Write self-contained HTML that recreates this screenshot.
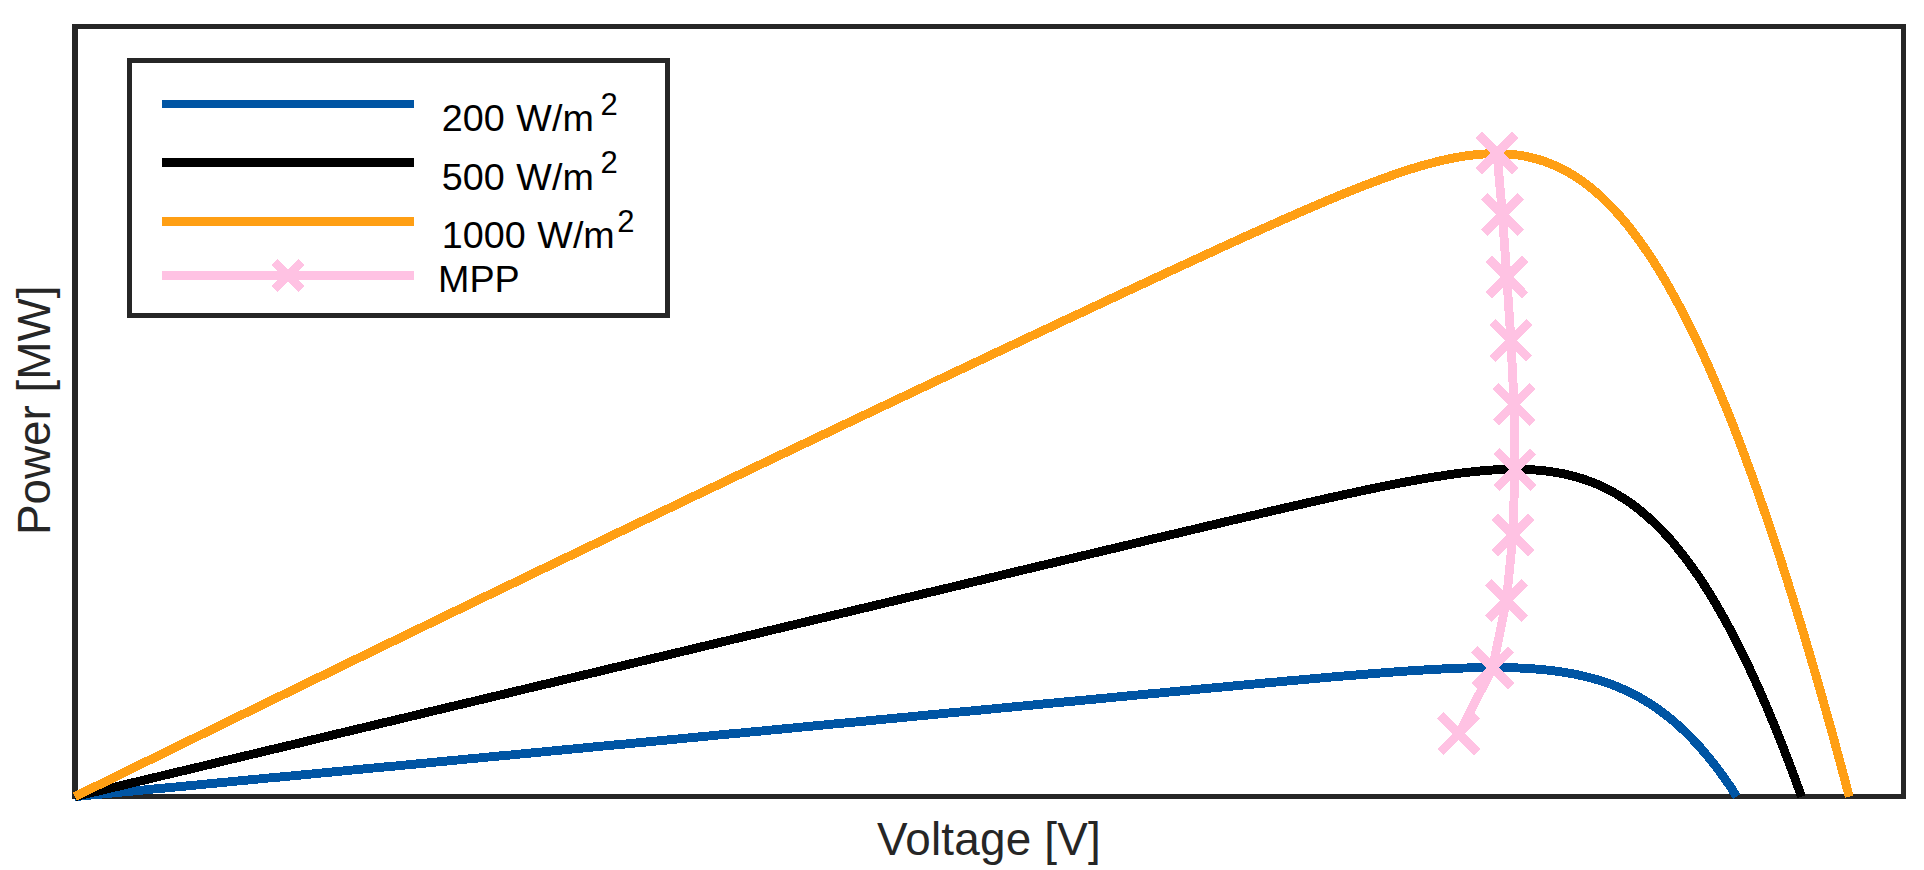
<!DOCTYPE html>
<html lang="en">
<head>
<meta charset="utf-8">
<title>PV power-voltage curves</title>
<style>
html,body{margin:0;padding:0;background:#fff;}
body{width:1924px;height:870px;overflow:hidden;}
svg{display:block;}
text{font-family:"Liberation Sans",Arial,Helvetica,sans-serif;}
.lg{font-size:37.7px;fill:#000;word-spacing:1.2px;}
.sup{font-size:31px;fill:#000;}
.ax{font-size:45.83px;fill:#262626;letter-spacing:0.2px;}
</style>
</head>
<body>
<svg width="1924" height="870" viewBox="0 0 1924 870" shape-rendering="crispEdges">
<rect x="0" y="0" width="1924" height="870" fill="#fff"/>
<!-- axes box -->
<rect x="75.15" y="26.4" width="1828.35" height="770" fill="none" stroke="#262626" stroke-width="5"/>
<rect x="72.3" y="23.9" width="5.7" height="775" fill="#262626"/>
<!-- curves -->
<g fill="none" stroke-width="8.9" stroke-linejoin="round" stroke-linecap="butt">
<path d="M75.0 796.6 L82.3 795.9 L89.5 795.2 L96.8 794.5 L104.0 793.8 L111.3 793.1 L118.5 792.4 L125.8 791.7 L133.1 791.0 L140.3 790.3 L147.6 789.6 L154.8 788.9 L162.1 788.3 L169.3 787.6 L176.6 786.9 L183.9 786.2 L191.1 785.5 L198.4 784.8 L205.6 784.1 L212.9 783.4 L220.1 782.7 L227.4 782.0 L234.6 781.3 L241.9 780.6 L249.2 779.9 L256.4 779.2 L263.7 778.5 L270.9 777.8 L278.2 777.2 L285.4 776.5 L292.7 775.8 L300.0 775.1 L307.2 774.4 L314.5 773.7 L321.7 773.0 L329.0 772.3 L336.2 771.6 L343.5 770.9 L350.8 770.2 L358.0 769.5 L365.3 768.8 L372.5 768.1 L379.8 767.4 L387.0 766.7 L394.3 766.1 L401.5 765.4 L408.8 764.7 L416.1 764.0 L423.3 763.3 L430.6 762.6 L437.8 761.9 L445.1 761.2 L452.3 760.5 L459.6 759.8 L466.9 759.1 L474.1 758.4 L481.4 757.7 L488.6 757.0 L495.9 756.3 L503.1 755.6 L510.4 755.0 L517.7 754.3 L524.9 753.6 L532.2 752.9 L539.4 752.2 L546.7 751.5 L553.9 750.8 L561.2 750.1 L568.4 749.4 L575.7 748.7 L583.0 748.0 L590.2 747.3 L597.5 746.6 L604.7 745.9 L612.0 745.2 L619.2 744.5 L626.5 743.9 L633.8 743.2 L641.0 742.5 L648.3 741.8 L655.5 741.1 L662.8 740.4 L670.0 739.7 L677.3 739.0 L684.6 738.3 L691.8 737.6 L699.1 736.9 L706.3 736.2 L713.6 735.5 L720.8 734.8 L728.1 734.1 L735.3 733.4 L742.6 732.8 L749.9 732.1 L757.1 731.4 L764.4 730.7 L771.6 730.0 L778.9 729.3 L786.1 728.6 L793.4 727.9 L800.7 727.2 L807.9 726.5 L815.2 725.8 L822.4 725.1 L829.7 724.4 L836.9 723.7 L844.2 723.0 L851.5 722.4 L858.7 721.7 L866.0 721.0 L873.2 720.3 L880.5 719.6 L887.7 718.9 L895.0 718.2 L902.2 717.5 L909.5 716.8 L916.8 716.1 L924.0 715.4 L931.3 714.7 L938.5 714.0 L945.8 713.3 L953.0 712.6 L960.3 711.9 L967.6 711.3 L974.8 710.6 L982.1 709.9 L989.3 709.2 L996.6 708.5 L1003.8 707.8 L1011.1 707.1 L1018.4 706.4 L1025.6 705.7 L1032.9 705.0 L1040.1 704.3 L1047.4 703.6 L1054.6 702.9 L1061.9 702.2 L1069.1 701.5 L1076.4 700.9 L1083.7 700.2 L1090.9 699.5 L1098.2 698.8 L1105.4 698.1 L1112.7 697.4 L1119.9 696.7 L1127.2 696.0 L1134.5 695.3 L1141.7 694.6 L1149.0 693.9 L1156.2 693.3 L1163.5 692.6 L1170.8 691.9 L1178.0 691.2 L1185.3 690.5 L1192.5 689.8 L1199.8 689.1 L1207.0 688.4 L1214.3 687.8 L1221.6 687.1 L1228.8 686.4 L1236.1 685.7 L1243.3 685.0 L1250.6 684.4 L1257.9 683.7 L1265.1 683.0 L1272.4 682.4 L1279.7 681.7 L1286.9 681.0 L1294.2 680.4 L1301.5 679.7 L1308.7 679.1 L1316.0 678.4 L1323.3 677.8 L1330.5 677.1 L1337.8 676.5 L1345.1 675.9 L1352.4 675.3 L1359.6 674.7 L1366.9 674.1 L1374.2 673.5 L1381.5 672.9 L1388.8 672.4 L1396.1 671.8 L1403.4 671.3 L1410.7 670.8 L1418.0 670.4 L1425.3 669.9 L1432.6 669.5 L1439.9 669.1 L1447.3 668.7 L1454.6 668.4 L1462.0 668.1 L1469.3 667.9 L1476.7 667.7 L1484.1 667.6 L1491.5 667.5 L1498.9 667.5 L1506.3 667.6 L1513.8 667.8 L1521.2 668.1 L1528.7 668.5 L1536.3 669.1 L1543.8 669.7 L1551.4 670.5 L1559.0 671.5 L1566.6 672.7 L1574.3 674.1 L1582.1 675.8 L1587.9 677.2 L1593.8 678.7 L1599.7 680.5 L1605.7 682.4 L1611.6 684.5 L1617.7 686.9 L1623.7 689.5 L1629.9 692.4 L1636.1 695.5 L1642.3 699.0 L1648.6 702.8 L1655.0 707.0 L1661.4 711.6 L1668.0 716.6 L1674.6 722.1 L1681.3 728.1 L1685.8 732.4 L1690.4 736.9 L1695.0 741.8 L1699.7 746.9 L1704.4 752.4 L1709.2 758.1 L1714.1 764.2 L1719.0 770.7 L1724.0 777.6 L1729.1 784.8 L1734.2 792.6 L1736.8 796.6" stroke="#0055A4"/>
<path d="M75.0 796.6 L82.3 794.8 L89.7 793.1 L97.0 791.3 L104.4 789.6 L111.7 787.8 L119.0 786.1 L126.4 784.3 L133.7 782.5 L141.1 780.8 L148.4 779.0 L155.7 777.3 L163.1 775.5 L170.4 773.8 L177.7 772.0 L185.1 770.3 L192.4 768.5 L199.8 766.8 L207.1 765.0 L214.4 763.3 L221.8 761.5 L229.1 759.7 L236.4 758.0 L243.8 756.2 L251.1 754.5 L258.5 752.7 L265.8 751.0 L273.1 749.2 L280.5 747.5 L287.8 745.7 L295.2 744.0 L302.5 742.2 L309.8 740.5 L317.2 738.7 L324.5 736.9 L331.8 735.2 L339.2 733.4 L346.5 731.7 L353.9 729.9 L361.2 728.2 L368.5 726.4 L375.9 724.7 L383.2 722.9 L390.5 721.2 L397.9 719.4 L405.2 717.7 L412.6 715.9 L419.9 714.1 L427.2 712.4 L434.6 710.6 L441.9 708.9 L449.3 707.1 L456.6 705.4 L463.9 703.6 L471.3 701.9 L478.6 700.1 L485.9 698.4 L493.3 696.6 L500.6 694.9 L508.0 693.1 L515.3 691.3 L522.6 689.6 L530.0 687.8 L537.3 686.1 L544.7 684.3 L552.0 682.6 L559.3 680.8 L566.7 679.1 L574.0 677.3 L581.3 675.6 L588.7 673.8 L596.0 672.1 L603.4 670.3 L610.7 668.5 L618.0 666.8 L625.4 665.0 L632.7 663.3 L640.0 661.5 L647.4 659.8 L654.7 658.0 L662.1 656.3 L669.4 654.5 L676.7 652.8 L684.1 651.0 L691.4 649.3 L698.8 647.5 L706.1 645.7 L713.4 644.0 L720.8 642.2 L728.1 640.5 L735.4 638.7 L742.8 637.0 L750.1 635.2 L757.5 633.5 L764.8 631.7 L772.1 630.0 L779.5 628.2 L786.8 626.5 L794.2 624.7 L801.5 622.9 L808.8 621.2 L816.2 619.4 L823.5 617.7 L830.8 615.9 L838.2 614.2 L845.5 612.4 L852.9 610.7 L860.2 608.9 L867.5 607.2 L874.9 605.4 L882.2 603.7 L889.5 601.9 L896.9 600.1 L904.2 598.4 L911.6 596.6 L918.9 594.9 L926.2 593.1 L933.6 591.4 L940.9 589.6 L948.3 587.9 L955.6 586.1 L962.9 584.4 L970.3 582.6 L977.6 580.9 L984.9 579.1 L992.3 577.4 L999.6 575.6 L1007.0 573.8 L1014.3 572.1 L1021.6 570.3 L1029.0 568.6 L1036.3 566.8 L1043.7 565.1 L1051.0 563.3 L1058.3 561.6 L1065.7 559.8 L1073.0 558.1 L1080.4 556.3 L1087.7 554.6 L1095.0 552.8 L1102.4 551.1 L1109.7 549.3 L1117.0 547.6 L1124.4 545.8 L1131.7 544.1 L1139.1 542.3 L1146.4 540.6 L1153.7 538.8 L1161.1 537.1 L1168.4 535.3 L1175.8 533.6 L1183.1 531.9 L1190.5 530.1 L1197.8 528.4 L1205.1 526.6 L1212.5 524.9 L1219.8 523.2 L1227.2 521.4 L1234.5 519.7 L1241.9 518.0 L1249.2 516.3 L1256.6 514.6 L1263.9 512.8 L1271.3 511.1 L1278.6 509.4 L1286.0 507.7 L1293.3 506.0 L1300.7 504.4 L1308.0 502.7 L1315.4 501.0 L1322.8 499.4 L1330.1 497.7 L1337.5 496.1 L1344.9 494.5 L1352.3 492.9 L1359.6 491.3 L1367.0 489.7 L1374.4 488.2 L1381.8 486.7 L1389.2 485.2 L1396.6 483.7 L1404.0 482.3 L1411.5 480.9 L1418.9 479.6 L1426.4 478.3 L1433.8 477.0 L1441.3 475.9 L1448.8 474.7 L1456.3 473.7 L1463.8 472.7 L1471.4 471.9 L1478.9 471.1 L1486.5 470.4 L1494.1 469.9 L1501.8 469.5 L1509.5 469.3 L1517.2 469.3 L1525.0 469.4 L1532.8 469.8 L1540.6 470.4 L1548.5 471.3 L1554.5 472.2 L1560.6 473.2 L1566.6 474.5 L1572.7 476.0 L1578.9 477.7 L1585.1 479.7 L1591.4 481.9 L1597.7 484.5 L1604.1 487.4 L1610.5 490.7 L1617.1 494.4 L1623.7 498.5 L1630.4 503.0 L1637.3 508.1 L1644.2 513.8 L1648.9 517.9 L1653.6 522.2 L1658.4 526.9 L1663.3 531.9 L1668.2 537.2 L1673.2 542.9 L1678.2 549.0 L1683.3 555.4 L1688.5 562.3 L1693.8 569.6 L1699.2 577.4 L1704.7 585.8 L1710.2 594.6 L1715.9 604.0 L1721.6 614.0 L1727.5 624.6 L1730.5 630.2 L1733.5 636.0 L1736.6 641.9 L1739.6 648.0 L1742.7 654.3 L1745.9 660.8 L1749.1 667.5 L1752.3 674.4 L1755.5 681.5 L1758.8 688.8 L1762.1 696.4 L1765.5 704.1 L1768.9 712.2 L1772.3 720.5 L1775.8 729.0 L1779.3 737.8 L1782.9 746.9 L1786.5 756.2 L1790.2 765.8 L1793.9 775.8 L1797.7 786.0 L1801.5 796.6 L1801.5 796.6" stroke="#000"/>
<path d="M75.0 796.6 L80.4 793.9 L85.8 791.3 L91.2 788.6 L96.7 785.9 L102.1 783.3 L107.5 780.6 L112.9 778.0 L118.3 775.3 L123.7 772.6 L129.1 770.0 L134.6 767.3 L140.0 764.7 L145.4 762.0 L150.8 759.4 L156.2 756.7 L161.6 754.1 L167.0 751.4 L172.5 748.8 L177.9 746.1 L183.3 743.5 L188.7 740.8 L194.1 738.2 L199.5 735.5 L204.9 732.9 L210.4 730.2 L215.8 727.6 L221.2 724.9 L226.6 722.3 L232.0 719.6 L237.4 717.0 L242.8 714.3 L248.3 711.7 L253.7 709.1 L259.1 706.4 L264.5 703.8 L269.9 701.1 L275.3 698.5 L280.7 695.9 L286.2 693.2 L291.6 690.6 L297.0 687.9 L302.4 685.3 L307.8 682.7 L313.2 680.0 L318.6 677.4 L324.1 674.8 L329.5 672.1 L334.9 669.5 L340.3 666.9 L345.7 664.2 L351.1 661.6 L356.5 659.0 L362.0 656.3 L367.4 653.7 L372.8 651.1 L378.2 648.5 L383.6 645.8 L389.0 643.2 L394.4 640.6 L399.9 638.0 L405.3 635.3 L410.7 632.7 L416.1 630.1 L421.5 627.5 L426.9 624.8 L432.3 622.2 L437.8 619.6 L443.2 617.0 L448.6 614.4 L454.0 611.7 L459.4 609.1 L464.8 606.5 L470.2 603.9 L475.7 601.3 L481.1 598.6 L486.5 596.0 L491.9 593.4 L497.3 590.8 L502.7 588.2 L508.1 585.6 L513.6 583.0 L519.0 580.4 L524.4 577.7 L529.8 575.1 L535.2 572.5 L540.6 569.9 L546.0 567.3 L551.5 564.7 L556.9 562.1 L562.3 559.5 L567.7 556.9 L573.1 554.3 L578.5 551.7 L583.9 549.1 L589.4 546.5 L594.8 543.9 L600.2 541.3 L605.6 538.7 L611.0 536.1 L616.4 533.5 L621.8 530.9 L627.3 528.3 L632.7 525.7 L638.1 523.1 L643.5 520.5 L648.9 517.9 L654.3 515.3 L659.7 512.7 L665.2 510.1 L670.6 507.5 L676.0 504.9 L681.4 502.3 L686.8 499.7 L692.2 497.1 L697.6 494.5 L703.1 491.9 L708.5 489.4 L713.9 486.8 L719.3 484.2 L724.7 481.6 L730.1 479.0 L735.5 476.4 L742.8 473.0 L750.0 469.5 L757.2 466.1 L764.4 462.6 L771.6 459.2 L778.9 455.7 L786.1 452.3 L793.3 448.9 L800.5 445.4 L807.7 442.0 L815.0 438.6 L822.2 435.1 L829.4 431.7 L836.6 428.3 L843.8 424.8 L851.0 421.4 L858.3 418.0 L865.5 414.5 L872.7 411.1 L879.9 407.7 L887.1 404.3 L894.4 400.8 L901.6 397.4 L908.8 394.0 L916.0 390.6 L923.2 387.2 L930.5 383.7 L937.7 380.3 L944.9 376.9 L952.1 373.5 L959.3 370.1 L966.6 366.7 L973.8 363.3 L981.0 359.8 L988.2 356.4 L995.4 353.0 L1002.7 349.6 L1009.9 346.2 L1017.1 342.8 L1024.3 339.4 L1031.5 336.0 L1038.8 332.6 L1046.0 329.2 L1053.2 325.8 L1060.4 322.4 L1067.6 319.0 L1074.9 315.7 L1082.1 312.3 L1089.3 308.9 L1096.5 305.5 L1103.7 302.1 L1111.0 298.7 L1118.2 295.4 L1125.4 292.0 L1132.6 288.6 L1139.9 285.2 L1147.1 281.9 L1154.3 278.5 L1161.5 275.2 L1168.8 271.8 L1176.0 268.4 L1183.2 265.1 L1190.5 261.8 L1197.7 258.4 L1204.9 255.1 L1212.1 251.8 L1219.4 248.4 L1226.6 245.1 L1233.9 241.8 L1241.1 238.5 L1248.3 235.2 L1255.6 232.0 L1262.8 228.7 L1270.1 225.5 L1277.4 222.2 L1284.6 219.0 L1291.9 215.8 L1299.1 212.6 L1306.4 209.5 L1313.7 206.3 L1321.0 203.2 L1328.3 200.1 L1335.6 197.1 L1342.9 194.1 L1350.2 191.1 L1357.6 188.2 L1364.9 185.3 L1372.3 182.5 L1379.6 179.8 L1387.0 177.1 L1394.4 174.5 L1401.9 172.0 L1409.3 169.5 L1416.8 167.2 L1424.3 165.0 L1431.9 163.0 L1439.4 161.1 L1447.1 159.3 L1454.7 157.8 L1462.4 156.4 L1470.2 155.3 L1478.0 154.4 L1485.9 153.9 L1493.8 153.6 L1499.8 153.6 L1505.9 153.9 L1512.0 154.4 L1518.2 155.1 L1524.4 156.1 L1530.7 157.5 L1537.1 159.1 L1543.5 161.1 L1550.1 163.5 L1556.7 166.3 L1563.4 169.6 L1570.2 173.4 L1577.2 177.7 L1584.2 182.6 L1591.4 188.2 L1596.3 192.3 L1601.2 196.7 L1606.2 201.5 L1611.3 206.6 L1616.4 212.1 L1621.7 218.1 L1627.0 224.4 L1632.4 231.3 L1637.9 238.6 L1643.5 246.5 L1649.2 254.9 L1655.1 263.9 L1661.0 273.5 L1667.1 283.8 L1670.1 289.2 L1673.2 294.7 L1676.4 300.5 L1679.6 306.5 L1682.8 312.6 L1686.1 319.0 L1689.3 325.5 L1692.7 332.3 L1696.0 339.3 L1699.5 346.5 L1702.9 354.0 L1706.4 361.7 L1710.0 369.7 L1713.5 377.9 L1717.2 386.4 L1720.8 395.1 L1724.6 404.2 L1728.4 413.5 L1732.2 423.1 L1736.1 433.1 L1740.0 443.4 L1744.0 453.9 L1748.0 464.9 L1752.2 476.2 L1756.3 487.8 L1760.6 499.9 L1764.8 512.3 L1769.2 525.1 L1773.6 538.3 L1778.1 552.0 L1782.7 566.1 L1787.3 580.6 L1792.0 595.6 L1796.8 611.1 L1801.7 627.1 L1806.6 643.7 L1811.6 660.7 L1816.7 678.3 L1821.9 696.5 L1827.2 715.2 L1832.6 734.6 L1838.0 754.6 L1843.6 775.3 L1849.2 796.6 L1849.2 796.6" stroke="#FF9F14"/>
<path d="M1458.9 733.7 L1492.7 667.8 L1506.4 600.5 L1513.0 535.0 L1514.9 469.6 L1514.1 404.4 L1510.9 340.4 L1506.8 277.1 L1502.4 214.6 L1497.0 153.0" stroke="#FFC2E3"/>
<path d="M1440.6 715.4L1477.2 752.0M1440.6 752.0L1477.2 715.4M1474.4 649.5L1511.0 686.1M1474.4 686.1L1511.0 649.5M1488.1 582.2L1524.7 618.8M1488.1 618.8L1524.7 582.2M1494.7 516.7L1531.3 553.3M1494.7 553.3L1531.3 516.7M1496.6 451.3L1533.2 487.9M1496.6 487.9L1533.2 451.3M1495.8 386.1L1532.4 422.7M1495.8 422.7L1532.4 386.1M1492.6 322.1L1529.2 358.7M1492.6 358.7L1529.2 322.1M1488.5 258.8L1525.1 295.4M1488.5 295.4L1525.1 258.8M1484.1 196.3L1520.7 232.9M1484.1 232.9L1520.7 196.3M1478.7 134.7L1515.3 171.3M1478.7 171.3L1515.3 134.7" stroke="#FFC2E3"/>
</g>
<!-- legend -->
<rect x="129.5" y="60.5" width="538" height="255" fill="#fff" stroke="#262626" stroke-width="5"/>
<g fill="none" stroke-width="8.9" stroke-linecap="butt">
<path d="M162 104H414" stroke="#0055A4"/>
<path d="M162 162.5H414" stroke="#000"/>
<path d="M162 221.4H414" stroke="#FF9F14"/>
<path d="M162 275.5H414" stroke="#FFC2E3"/>
<path d="M274.6 262.2L301.4 289.0M274.6 289.0L301.4 262.2" stroke="#FFC2E3"/>
</g>
<text class="lg" x="441.8" y="130.9">200 W/m</text><text class="sup" x="600.6" y="114.6">2</text>
<text class="lg" x="441.8" y="189.7">500 W/m</text><text class="sup" x="600.6" y="172.9">2</text>
<text class="lg" x="441.8" y="247.6">1000 W/m</text><text class="sup" x="617.2" y="231.9">2</text>
<text class="lg" x="438" y="291.75">MPP</text>
<!-- axis labels -->
<text class="ax" x="989" y="854.8" text-anchor="middle">Voltage [V]</text>
<text class="ax" transform="translate(50,410.3) rotate(-90)" text-anchor="middle" style="letter-spacing:0">Power [MW]</text>
</svg>
</body>
</html>
